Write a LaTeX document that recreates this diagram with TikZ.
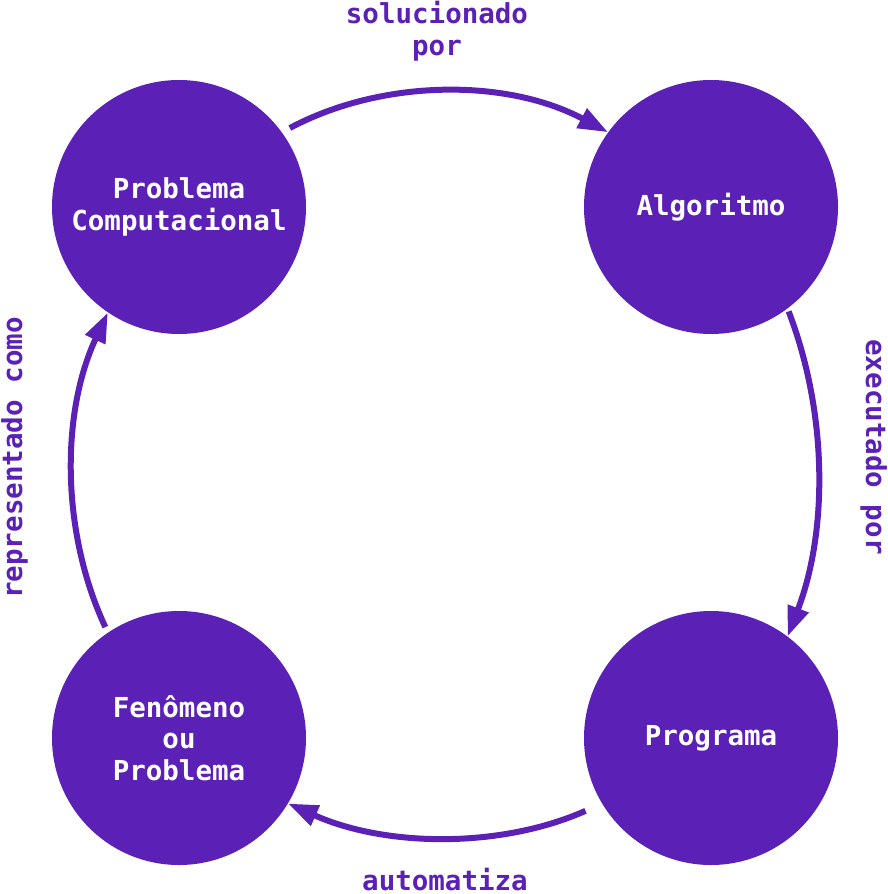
\documentclass[tikz,border=0pt]{standalone}
\usepackage{fontspec}
\setmonofont{DejaVu Sans Mono}
\usetikzlibrary{arrows.meta}
\definecolor{roxo}{HTML}{5B21B6}

\begin{document}
\begin{tikzpicture}[x=1pt, y=1pt,
  etapa/.style={circle, fill=roxo, minimum size=254pt, inner sep=0pt, text=white, align=center,
    font=\ttfamily\bfseries\fontsize{27.5}{31.5}\selectfont},
  rotulo/.style={text=roxo, inner sep=0pt, align=center,
    font=\ttfamily\bfseries\fontsize{27.5}{31.5}\selectfont},
  seta/.style={-{Triangle[length=30pt,width=21pt]}, line width=6pt, draw=roxo}]

\useasboundingbox (0,0) rectangle (888,-894);

\node [etapa] (pc)   at (179,-207) {Problema\\Computacional};
\node [etapa] (alg)  at (711,-207) {Algoritmo};
\node [etapa] (prog) at (711,-738) {Programa};
\node [etapa] (fen)  at (179,-738) {Fenômeno\\ou\\Problema};

% arcos do ciclo
\draw [seta, shorten <=9pt]  (pc.36) to [out=28, in=152, looseness=0.9] (alg.144);
\draw [seta, shorten <=3pt]  (alg.-53) to [out=-69, in=69, looseness=0.88] (prog.53);
\draw [seta, shorten <=18pt] (prog.211) to [out=204, in=-24, looseness=0.89] (fen.-31);
\draw [seta, shorten <=6pt]  (fen.124) to [out=115, in=-115, looseness=0.89] (pc.-124);

\node [rotulo] (l1) at (437,-31) {solucionado\\por};
\node [rotulo, rotate=-90, anchor=base] (l2) at (866,-447) {executado por};
\node [rotulo, anchor=base] (l3) at (445,-890) {automatiza};
\node [rotulo, rotate=90, anchor=base] (l4) at (22,-458) {representado como};

\end{tikzpicture}
\end{document}
